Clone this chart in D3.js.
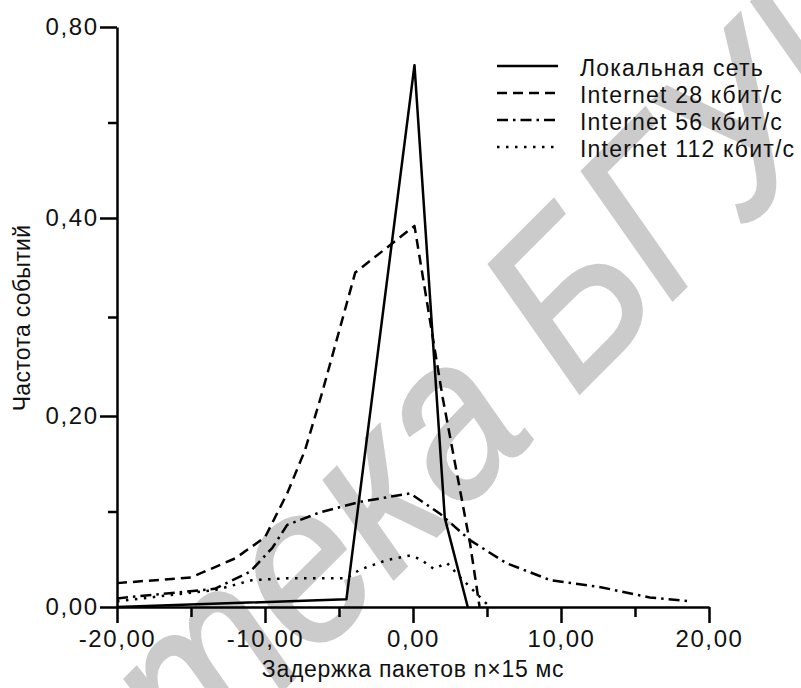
<!DOCTYPE html>
<html><head><meta charset="utf-8">
<script src="https://cdn.jsdelivr.net/npm/d3@7"></script>
<style>body{margin:0;background:#fff} svg{display:block}</style>
</head><body>
<script>
// ---- data ----
const seriesNames = ["Локальная сеть", "Internet 28 кбит/с", "Internet 56 кбит/с", "Internet 112 кбит/с"];

const localX = [-20, -4.5, 0.1, 2.15, 3.7];
const localY = [0.0, 0.008, 0.72, 0.093, 0.0];

const net28X = [-20, -15, -12, -10, -8.5, -7.3, -6.15, -3.9, 0.1, 2.0, 3.85, 4.5];
const net28Y = [0.025, 0.031, 0.051, 0.073, 0.119, 0.164, 0.223, 0.345, 0.392, 0.219, 0.067, 0.0];

const net56X = [-20, -13.4, -11, -9.5, -8.5, -6.3, -3.6, -0.2, 1.8, 3.85, 6.3, 9.3, 12.6, 16.0, 18.7];
const net56Y = [0.009, 0.019, 0.037, 0.062, 0.086, 0.099, 0.110, 0.119, 0.098, 0.070, 0.046, 0.028, 0.021, 0.010, 0.006];

const net112X = [-20, -13.3, -10.9, -8.6, -4.5, -3.6, -1.8, -0.2, 0.5, 1.4, 2.3, 3.2, 5.0];
const net112Y = [0.006, 0.018, 0.028, 0.030, 0.030, 0.039, 0.049, 0.054, 0.050, 0.040, 0.046, 0.031, 0.003];

const xMajor = [-20, -10, 0, 10, 20];
const xMajorLabels = ["-20,00", "-10,00", "0,00", "10,00", "20,00"];
const xMinor = [-15, -5, 5, 15];
const yMajor = [0, 0.2, 0.4, 0.8];
const yMajorLabels = ["0,00", "0,20", "0,40", "0,80"];
const yMinor = [0.1, 0.3, 0.6];

const xTitle = "Задержка пакетов n×15 мс";
const yTitle = "Частота событий";
const watermarkWords = ["Библиотека", " БГУИР"];

// ---- drawing ----
const W = 801, H = 688;
const FONT = "'Liberation Sans', Arial, Helvetica, sans-serif";
const svg = d3.select("body").append("svg").attr("width", W).attr("height", H)
  .style("font-family", FONT);

const x = d3.scaleLinear().domain([-20, 20]).range([117, 709]);
// axis in the picture is non-uniform: equal spacing for 0, 0.2, 0.4, 0.8
const y = d3.scaleLinear().domain(yMajor).range([607, 416, 218, 27]);

// watermark (beneath everything), diagonal
const WM_SX = 0.9;
const wmG = svg.append("g");
const wm = wmG.append("text")
  .attr("x", 0).attr("y", 0)
  .attr("dominant-baseline", "central")
  .attr("font-size", 225)
  .attr("font-style", "italic")
  .attr("fill", "#cbcbcb")
  .attr("stroke", "#cbcbcb")
  .attr("stroke-width", 3);
wm.append("tspan").text(watermarkWords[0]);
const wm2 = wm.append("tspan").attr("dx", 0).text(watermarkWords[1]);
(function placeWatermark() {
  const n = wm.node();
  const c = i => { const e = n.getExtentOfChar(i); return e.x + e.width / 2; };
  const gap = c(12) - c(9);
  wm2.attr("dx", 295 / WM_SX - gap);
  const cx = c(9);
  wmG.attr("transform", `translate(443,418) rotate(-45) scale(${WM_SX},1) translate(${-cx},0)`);
})();

// axes
const axW = 2.5;
const gx = svg.append("g").attr("transform", `translate(0,${y(0)})`);
gx.call(d3.axisBottom(x).tickValues(xMajor).tickFormat((d, i) => xMajorLabels[i])
  .tickSize(16).tickSizeOuter(0).tickPadding(7));
const gxm = svg.append("g").attr("transform", `translate(0,${y(0)})`);
gxm.call(d3.axisBottom(x).tickValues(xMinor).tickFormat("").tickSize(10).tickSizeOuter(0));
gxm.select(".domain").remove();

const gy = svg.append("g").attr("transform", `translate(${x(-20)},0)`);
gy.call(d3.axisLeft(y).tickValues(yMajor).tickFormat((d, i) => yMajorLabels[i])
  .tickSize(17).tickSizeOuter(0).tickPadding(3));
const gym = svg.append("g").attr("transform", `translate(${x(-20)},0)`);
gym.call(d3.axisLeft(y).tickValues(yMinor).tickFormat("").tickSize(9).tickSizeOuter(0));
gym.select(".domain").remove();

svg.selectAll(".domain, .tick line").attr("stroke", "#000").attr("stroke-width", axW);
svg.selectAll(".tick text").attr("font-size", 24).attr("font-family", FONT).attr("fill", "#111")
  .attr("letter-spacing", "1.6px");
gy.selectAll(".tick text").attr("dx", "1.6px");

// titles
svg.append("text").attr("x", x(0)).attr("y", 669).attr("text-anchor", "middle")
  .attr("dominant-baseline", "central").attr("font-size", 23).attr("letter-spacing", "0.7px")
  .attr("fill", "#111").text(xTitle);
svg.append("text").attr("transform", `translate(22,318) rotate(-90)`).attr("text-anchor", "middle")
  .attr("dominant-baseline", "central").attr("font-size", 23).attr("letter-spacing", "0.3px")
  .attr("fill", "#111").text(yTitle);

// series
const series = [
  {xs: localX, ys: localY, dash: null},
  {xs: net28X, ys: net28Y, dash: "10,6"},
  {xs: net56X, ys: net56Y, dash: "11,5,2.5,5"},
  {xs: net112X, ys: net112Y, dash: "2.5,6.5"}
];
const line = d3.line().x(d => x(d[0])).y(d => y(d[1]));
series.forEach(s => {
  const pts = s.xs.map((v, i) => [v, s.ys[i]]);
  svg.append("path").datum(pts).attr("d", line)
    .attr("fill", "none").attr("stroke", "#000").attr("stroke-width", 2.5)
    .attr("stroke-linejoin", "round")
    .attr("stroke-dasharray", s.dash);
});

// legend
const rows = [68, 95, 122, 149];
series.forEach((s, i) => {
  svg.append("line").attr("x1", 497).attr("x2", 558).attr("y1", rows[i] - 2).attr("y2", rows[i] - 2)
    .attr("stroke", "#000").attr("stroke-width", 2.5).attr("stroke-dasharray", s.dash);
  svg.append("text").attr("x", 580).attr("y", rows[i]).attr("dominant-baseline", "central")
    .attr("font-size", 23).attr("letter-spacing", "1.2px")
    .attr("fill", "#111").text(seriesNames[i]);
});
</script>
</body></html>
